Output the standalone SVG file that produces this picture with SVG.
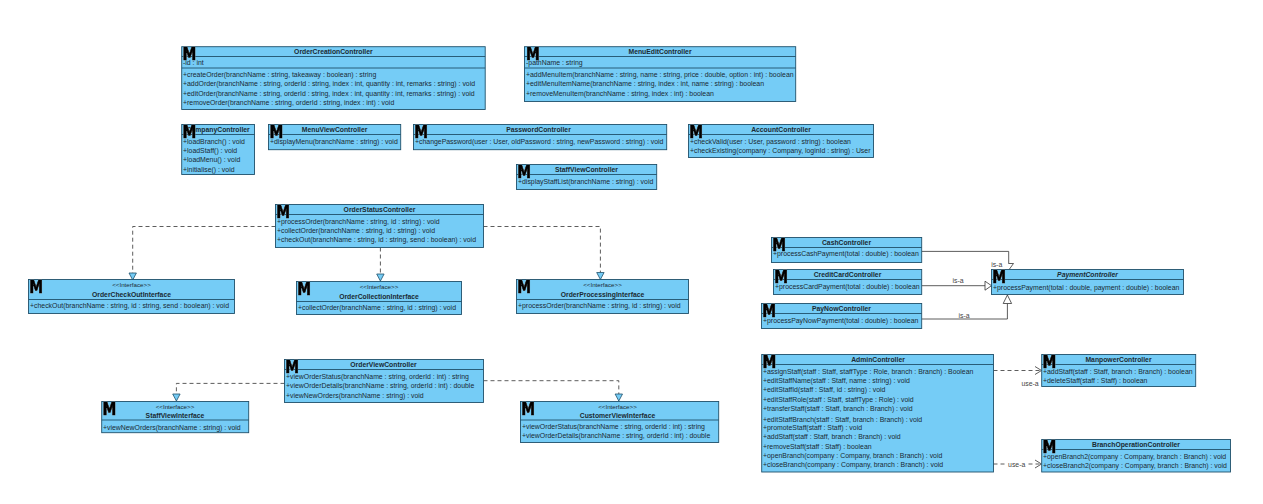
<svg xmlns="http://www.w3.org/2000/svg" width="1263" height="504" viewBox="0 0 1263 504">
<style>
text{font-family:"Liberation Sans",Arial,sans-serif;font-size:6.9px;fill:#1a2a33}
.b{fill:#75CCF6;stroke:#1F506B;stroke-width:.9}
.s{stroke:#1F506B;stroke-width:.9;fill:none}
.t{font-weight:bold;text-anchor:middle;font-size:6.8px}
.i{font-style:italic}
.st{text-anchor:middle;font-size:6.2px}
.m{font-family:"DejaVu Sans",sans-serif;font-weight:bold;font-size:18px;fill:#000;stroke:#000;stroke-width:.7;filter:drop-shadow(0 0 .6px #fff)}
.c{stroke:#333;stroke-width:.8;fill:none}
.d{stroke-dasharray:4 3}
.tri{fill:#75CCF6;stroke:#1F506B;stroke-width:.8}
.h{fill:#fff;stroke:#333;stroke-width:.8}
.l{text-anchor:middle;fill:#444}
</style>
<rect width="1263" height="504" fill="#fff"/>
<g id="connectors">
<polyline class="c d" points="275.5,226.5 132.7,226.5 132.7,273"/><polygon class="tri" points="129,273 136.4,273 132.7,280"/>
<polyline class="c d" points="380.4,247.5 380.4,274"/><polygon class="tri" points="376.7,274 384.1,274 380.4,281"/>
<polyline class="c d" points="483.5,226.5 600.4,226.5 600.4,272.5"/><polygon class="tri" points="596.7,272.5 604.1,272.5 600.4,279.5"/>
<polyline class="c d" points="284.5,383.4 176.4,383.4 176.4,394"/><polygon class="tri" points="172.7,394 180.1,394 176.4,401"/>
<polyline class="c d" points="483.5,380.7 618.8,380.7 618.8,394"/><polygon class="tri" points="615.1,394 622.5,394 618.8,401"/>
<polyline class="c" points="921.7,251.4 1008.7,251.4 1008.7,263.5"/><polyline class="c" points="1008.5,263.5 1013.5,263.5 1009.5,269"/>
<line class="c" x1="921.7" y1="285.7" x2="985" y2="285.7"/><polygon class="h" points="985,281.2 985,290.2 991.5,285.7"/>
<polyline class="c" points="921.7,319 1007.4,319 1007.4,303.5"/><polygon class="h" points="1003.2,303.5 1011.6,303.5 1007.4,295"/>
<line class="c d" x1="993.5" y1="370.5" x2="1040" y2="370.5"/><polyline class="c" points="1035,366.5 1041.5,370.5 1035,374.5"/>
<line class="c d" x1="993.5" y1="464" x2="1040" y2="464"/><polyline class="c" points="1035,460 1041.5,464 1035,468"/>
<text class="l" x="996.7" y="266.5">is-a</text>
<text class="l" x="958" y="283">is-a</text>
<text class="l" x="964" y="317.5">is-a</text>
<text class="l" x="1030" y="386">use-a</text>
<rect x="1006" y="458" width="22" height="12" fill="#fff"/>
<text class="l" x="1016.7" y="466.5">use-a</text>
</g>
<g id="OrderCreationController"><rect class="b" x="181.7" y="46.7" width="303.5" height="62.8"/><path class="s" d="M181.7 56.5H485.2M181.7 68H485.2"/>
<text class="t" x="333.4" y="54.2">OrderCreationController</text><text x="183" y="65.2">-id : int</text>
<text x="183" y="76.8">+createOrder(branchName : string, takeaway : boolean) : string</text>
<text x="183" y="86.2">+addOrder(branchName : string, orderId : string, index : int, quantity : int, remarks : string) : void</text>
<text x="183" y="96.2">+editOrder(branchName : string, orderId : string, index : int, quantity : int, remarks : string) : void</text>
<text x="183" y="105.2">+removeOrder(branchName : string, orderId : string, index : int) : void</text>
<text class="m" x="182.6" y="60" textLength="13.8" lengthAdjust="spacingAndGlyphs">M</text></g>
<g id="MenuEditController"><rect class="b" x="524.5" y="46.7" width="271.2" height="54.8"/><path class="s" d="M524.5 56.5H795.7M524.5 68H795.7"/>
<text class="t" x="660" y="54.2">MenuEditController</text><text x="526" y="65.2">-pathName : string</text>
<text x="526" y="76.8">+addMenuItem(branchName : string, name : string, price : double, option : int) : boolean</text>
<text x="526" y="86.2">+editMenuItemName(branchName : string, index : int, name : string) : boolean</text>
<text x="526" y="96.2">+removeMenuItem(branchName : string, index : int) : boolean</text>
<text class="m" x="526" y="60" textLength="13.8" lengthAdjust="spacingAndGlyphs">M</text></g>
<g id="CompanyController"><rect class="b" x="181.7" y="124.5" width="72.8" height="50"/><path class="s" d="M181.7 134.5H254.5"/>
<text class="t" x="218" y="132">CompanyController</text>
<text x="183" y="144.2">+loadBranch() : void</text><text x="183" y="153.2">+loadStaff() : void</text><text x="183" y="162.2">+loadMenu() : void</text><text x="183" y="171.8">+initialise() : void</text>
<text class="m" x="182.6" y="138" textLength="13.8" lengthAdjust="spacingAndGlyphs">M</text></g>
<g id="MenuViewController"><rect class="b" x="268.5" y="124.5" width="132.2" height="25.2"/><path class="s" d="M268.5 134.5H400.7"/>
<text class="t" x="334.6" y="132">MenuViewController</text><text x="270" y="144.2">+displayMenu(branchName : string) : void</text>
<text class="m" x="269.5" y="138" textLength="13.8" lengthAdjust="spacingAndGlyphs">M</text></g>
<g id="PasswordController"><rect class="b" x="413.5" y="124.5" width="253.2" height="25.2"/><path class="s" d="M413.5 134.5H666.7"/>
<text class="t" x="538.5" y="132">PasswordController</text><text x="415" y="144.2">+changePassword(user : User, oldPassword : string, newPassword : string) : void</text>
<text class="m" x="414.2" y="138" textLength="13.8" lengthAdjust="spacingAndGlyphs">M</text></g>
<g id="AccountController"><rect class="b" x="688.5" y="124.5" width="185" height="33"/><path class="s" d="M688.5 134.5H873.5"/>
<text class="t" x="781" y="132">AccountController</text><text x="690" y="144.2">+checkValid(user : User, password : string) : boolean</text><text x="690" y="153.2">+checkExisting(company : Company, loginId : string) : User</text>
<text class="m" x="689.2" y="138" textLength="13.8" lengthAdjust="spacingAndGlyphs">M</text></g>
<g id="StaffViewController"><rect class="b" x="516.5" y="164.5" width="140.2" height="25"/><path class="s" d="M516.5 174.5H656.7"/>
<text class="t" x="586.5" y="172">StaffViewController</text><text x="518" y="184.2">+displayStaffList(branchName : string) : void</text>
<text class="m" x="517.2" y="178" textLength="13.8" lengthAdjust="spacingAndGlyphs">M</text></g>
<g id="OrderStatusController"><rect class="b" x="275.5" y="204.5" width="208" height="43"/><path class="s" d="M275.5 214.5H483.5"/>
<text class="t" x="379.5" y="212">OrderStatusController</text>
<text x="277" y="224.2">+processOrder(branchName : string, id : string) : void</text><text x="277" y="233.2">+collectOrder(branchName : string, id : string) : void</text><text x="277" y="242.2">+checkOut(branchName : string, id : string, send : boolean) : void</text>
<text class="m" x="276.2" y="218" textLength="13.8" lengthAdjust="spacingAndGlyphs">M</text></g>
<g id="OrderCheckOutInterface"><rect class="b" x="28.5" y="279.5" width="206" height="34"/><path class="s" d="M28.5 299.5H234.5"/>
<text class="st" x="131.5" y="286.8">&lt;&lt;Interface&gt;&gt;</text><text class="t" x="131.5" y="297.2">OrderCheckOutInterface</text>
<text x="30" y="307.5">+checkOut(branchName : string, id : string, send : boolean) : void</text>
<text class="m" x="29.2" y="293" textLength="13.8" lengthAdjust="spacingAndGlyphs">M</text></g>
<g id="OrderCollectionInterface"><rect class="b" x="296.5" y="281.5" width="165" height="33"/><path class="s" d="M296.5 301.5H461.5"/>
<text class="st" x="379" y="289">&lt;&lt;Interface&gt;&gt;</text><text class="t" x="379" y="298.5">OrderCollectionInterface</text>
<text x="298" y="309.5">+collectOrder(branchName : string, id : string) : void</text>
<text class="m" x="297.2" y="295" textLength="13.8" lengthAdjust="spacingAndGlyphs">M</text></g>
<g id="OrderProcessingInterface"><rect class="b" x="516.5" y="279.5" width="172" height="34"/><path class="s" d="M516.5 299.5H688.5"/>
<text class="st" x="602.5" y="286.8">&lt;&lt;Interface&gt;&gt;</text><text class="t" x="602.5" y="297.2">OrderProcessingInterface</text>
<text x="518" y="307.5">+processOrder(branchName : string, id : string) : void</text>
<text class="m" x="517.2" y="293" textLength="13.8" lengthAdjust="spacingAndGlyphs">M</text></g>
<g id="CashController"><rect class="b" x="771.5" y="237.5" width="150.2" height="25"/><path class="s" d="M771.5 247.5H921.7"/>
<text class="t" x="846.5" y="244.8">CashController</text><text x="773" y="255.8">+processCashPayment(total : double) : boolean</text>
<text class="m" x="772.2" y="251" textLength="13.8" lengthAdjust="spacingAndGlyphs">M</text></g>
<g id="CreditCardController"><rect class="b" x="773.5" y="269.5" width="148.2" height="25"/><path class="s" d="M773.5 279.5H921.7"/>
<text class="t" x="847.5" y="277.2">CreditCardController</text><text x="775" y="289.2">+processCardPayment(total : double) : boolean</text>
<text class="m" x="774.2" y="283" textLength="13.8" lengthAdjust="spacingAndGlyphs">M</text></g>
<g id="PayNowController"><rect class="b" x="761.5" y="303.5" width="160.2" height="25"/><path class="s" d="M761.5 313.5H921.7"/>
<text class="t" x="841.5" y="311.2">PayNowController</text><text x="763" y="322.5">+processPayNowPayment(total : double) : boolean</text>
<text class="m" x="762.2" y="317" textLength="13.8" lengthAdjust="spacingAndGlyphs">M</text></g>
<g id="PaymentController"><rect class="b" x="991.5" y="269.5" width="192" height="25"/><path class="s" d="M991.5 279.5H1183.5"/>
<text class="t i" x="1087.5" y="277.2">PaymentController</text><text x="993" y="289.5">+processPayment(total : double, payment : double) : boolean</text>
<text class="m" x="992.2" y="283" textLength="13.8" lengthAdjust="spacingAndGlyphs">M</text></g>
<g id="OrderViewController"><rect class="b" x="284.5" y="359.5" width="199" height="43"/><path class="s" d="M284.5 369.5H483.5"/>
<text class="t" x="383.5" y="367.2">OrderViewController</text>
<text x="286" y="379.2">+viewOrderStatus(branchName : string, orderId : int) : string</text><text x="286" y="388.2">+viewOrderDetails(branchName : string, orderId : int) : double</text><text x="286" y="397.5">+viewNewOrders(branchName : string) : void</text>
<text class="m" x="285.2" y="373" textLength="13.8" lengthAdjust="spacingAndGlyphs">M</text></g>
<g id="StaffViewInterface"><rect class="b" x="101.7" y="401.5" width="147" height="31.2"/><path class="s" d="M101.7 420H248.7"/>
<text class="st" x="175" y="409.2">&lt;&lt;Interface&gt;&gt;</text><text class="t" x="175" y="418.2">StaffViewInterface</text>
<text x="103" y="429.8">+viewNewOrders(branchName : string) : void</text>
<text class="m" x="102.5" y="415" textLength="13.8" lengthAdjust="spacingAndGlyphs">M</text></g>
<g id="CustomerViewInterface"><rect class="b" x="520.5" y="401.5" width="198.2" height="41"/><path class="s" d="M520.5 420H718.7"/>
<text class="st" x="617.5" y="408.8">&lt;&lt;Interface&gt;&gt;</text><text class="t" x="617.5" y="418.2">CustomerViewInterface</text>
<text x="522" y="429.2">+viewOrderStatus(branchName : string, orderId : int) : string</text><text x="522" y="438.2">+viewOrderDetails(branchName : string, orderId : int) : double</text>
<text class="m" x="521.2" y="415" textLength="13.8" lengthAdjust="spacingAndGlyphs">M</text></g>
<g id="AdminController"><rect class="b" x="761.7" y="354.5" width="231.8" height="117.5"/><path class="s" d="M761.7 364.5H993.5"/>
<text class="t" x="878" y="362.2">AdminController</text>
<text x="763" y="374.2">+assignStaff(staff : Staff, staffType : Role, branch : Branch) : Boolean</text>
<text x="763" y="382.8">+editStaffName(staff : Staff, name : string) : void</text>
<text x="763" y="392.2">+editStaffId(staff : Staff, id : string) : void</text>
<text x="763" y="401.8">+editStaffRole(staff : Staff, staffType : Role) : void</text>
<text x="763" y="411.2">+transferStaff(staff : Staff, branch : Branch) : void</text>
<text x="763" y="421.5">+editStaffBranch(staff : Staff, branch : Branch) : void</text>
<text x="763" y="430.2">+promoteStaff(staff : Staff) : void</text>
<text x="763" y="439.2">+addStaff(staff : Staff, branch : Branch) : void</text>
<text x="763" y="449.2">+removeStaff(staff : Staff) : boolean</text>
<text x="763" y="458.2">+openBranch(company : Company, branch : Branch) : void</text>
<text x="763" y="467.2">+closeBranch(company : Company, branch : Branch) : void</text>
<text class="m" x="762.6" y="368" textLength="13.8" lengthAdjust="spacingAndGlyphs">M</text></g>
<g id="ManpowerController"><rect class="b" x="1041.7" y="354.5" width="154" height="32"/><path class="s" d="M1041.7 364.5H1195.7"/>
<text class="t" x="1118.5" y="361.5">ManpowerController</text><text x="1043" y="373.8">+addStaff(staff : Staff, branch : Branch) : boolean</text><text x="1043" y="383.2">+deleteStaff(staff : Staff) : boolean</text>
<text class="m" x="1042.6" y="368" textLength="13.8" lengthAdjust="spacingAndGlyphs">M</text></g>
<g id="BranchOperationController"><rect class="b" x="1041.7" y="439.5" width="188.8" height="32.5"/><path class="s" d="M1041.7 449.5H1230.5"/>
<text class="t" x="1136" y="446.8">BranchOperationController</text><text x="1043" y="459.2">+openBranch2(company : Company, branch : Branch) : void</text><text x="1043" y="468.2">+closeBranch2(company : Company, branch : Branch) : void</text>
<text class="m" x="1042.6" y="453" textLength="13.8" lengthAdjust="spacingAndGlyphs">M</text></g>
</svg>
